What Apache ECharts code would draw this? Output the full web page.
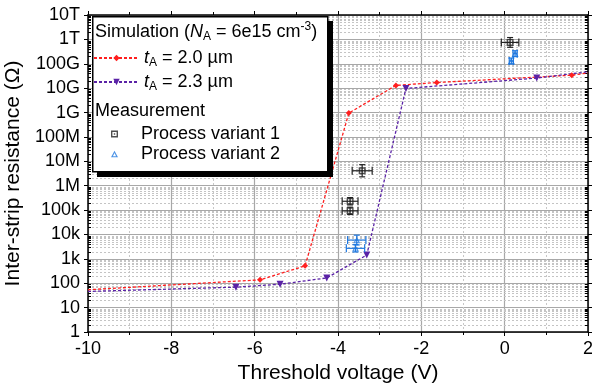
<!DOCTYPE html>
<html>
<head>
<meta charset="utf-8">
<script src="https://cdn.jsdelivr.net/npm/echarts@6/dist/echarts.min.js"></script>
<style>
  html, body { margin: 0; padding: 0; background: #fff; }
  #chart { width: 592px; height: 385px; }
</style>
</head>
<body>
<div id="chart"></div>
<script>
// simulated curves (V, Ohm); edge points carry the line to the frame without a marker
const vThin = [-10, -5.87, -4.79, -3.74, -2.61, -1.63, 1.61, 2];
const rThin = [54, 138, 515, 9.5e8, 1.3e10, 1.7e10, 3.4e10, 4.2e10];
const markThin = [0, 1, 1, 1, 1, 1, 1, 0];
const vThick = [-10, -6.45, -5.39, -4.27, -3.31, -2.37, 0.77, 2];
const rThick = [46, 69, 91, 165, 1440, 9.7e9, 2.6e10, 4.7e10];
const markThick = [0, 1, 1, 1, 1, 1, 1, 0];

// measurements with x error (V) and y error (decades)
const vVar1 = [0.13, -3.42, -3.71, -3.71];
const rVar1 = [7.5e11, 4.1e6, 2.3e5, 9.3e4];
const dvVar1 = [0.21, 0.24, 0.19, 0.19];
const dyVar1 = [0.2, 0.25, 0.15, 0.15];
const vVar2 = [0.25, 0.16, -3.55, -3.58];
const rVar2 = [2.6e11, 1.3e11, 5.9e3, 2.7e3];
const dvVar2 = [0.05, 0.05, 0.22, 0.22];
const dyVar2 = [0.12, 0.12, 0.2, 0.15];

const yTickLabels = ["1", "10", "100", "1k", "10k", "100k", "1M", "10M", "100M", "1G", "10G", "100G", "1T", "10T"];
const minorSteps = [2, 3, 4, 5, 6, 7, 8, 9];

const font = "Liberation Sans";
const red = "#ff1f1f";
const purple = "#5a22a6";
const blue = "#1f78e0";

const chart = echarts.init(document.getElementById("chart"), null, { renderer: "canvas" });

const lineData = (vs, rs, marks) => vs.map((v, i) => ({ value: [v, rs[i]], symbol: marks[i] ? undefined : "none" }));
const errData = (vs, rs, dv, dy) => vs.map((v, i) => [v, rs[i], dv[i], dy[i]]);

// minor log grid: 2..9 within every decade below the top label
const minorRows = [];
yTickLabels.slice(0, -1).forEach((_, d) => minorSteps.forEach((m) => minorRows.push([-10, m * Math.pow(10, d)])));

function errorBars(color) {
  return function (params, api) {
    const v = api.value(0), r = api.value(1), dv = api.value(2), dy = api.value(3);
    const l = api.coord([v - dv, r]), rr = api.coord([v + dv, r]);
    const t = api.coord([v, r * Math.pow(10, dy)]), b = api.coord([v, r / Math.pow(10, dy)]);
    const style = { stroke: color, lineWidth: 1.2 };
    const seg = (x1, y1, x2, y2) => ({ type: "line", shape: { x1, y1, x2, y2 }, style });
    return {
      type: "group",
      children: [
        seg(l[0], l[1], rr[0], rr[1]),
        seg(l[0], l[1] - 4, l[0], l[1] + 4),
        seg(rr[0], rr[1] - 4, rr[0], rr[1] + 4),
        seg(t[0], t[1], b[0], b[1]),
        seg(t[0] - 3, t[1], t[0] + 3, t[1]),
        seg(b[0] - 3, b[1], b[0] + 3, b[1]),
      ],
    };
  };
}

function minorGrid(params, api) {
  const cs = params.coordSys;
  const y = Math.round(api.coord([api.value(0), api.value(1)])[1]) + 0.5;
  const x0 = cs.x, x1 = cs.x + cs.width;
  return {
    type: "group",
    children: [
      { type: "line", shape: { x1: x0, y1: y, x2: x1, y2: y }, style: { stroke: "#c4c4c4", lineWidth: 1, lineDash: [2, 2] } },
      { type: "line", shape: { x1: x0, y1: y, x2: x0 + 3, y2: y }, style: { stroke: "#000", lineWidth: 1 } },
      { type: "line", shape: { x1: x1 - 3, y1: y, x2: x1, y2: y }, style: { stroke: "#000", lineWidth: 1 } },
    ],
  };
}

const richText = {
  it: { fontStyle: "italic", fontSize: 18, fontFamily: font, lineHeight: 22 },
  sub: { fontSize: 12, fontFamily: font, lineHeight: 13, verticalAlign: "bottom" },
  sup: { fontSize: 12, fontFamily: font, lineHeight: 13, verticalAlign: "top" },
  a: { fontSize: 18, fontFamily: font, lineHeight: 22 },
  pv: { fontSize: 18, fontFamily: font, lineHeight: 22, padding: [0, 0, 0, 18] },
};

const squareDot = "path://M0 0H10V10H0Z M2 2V8H8V2Z M4 4H6V6H4Z";
const hollowTriangle = "path://M5 0L10 9H0Z M5 3.2L2.7 7.6H7.3Z";

const frameX = {
  type: "value", min: -10, max: 2, interval: 2,
  axisLine: { onZero: false, lineStyle: { color: "#000", width: 1.5 } },
  axisTick: { inside: false, length: 4, lineStyle: { color: "#000" } },
  minorTick: { show: true, splitNumber: 2, length: 3, lineStyle: { color: "#000" } },
};
const frameY = {
  type: "log", logBase: 10, min: 1, max: 1e13, interval: 1,
  axisLine: { show: true, onZero: false, lineStyle: { color: "#000", width: 1.5 } },
  axisTick: { show: true, inside: false, length: 4, lineStyle: { color: "#000" } },
};

chart.setOption({
  animation: false,
  backgroundColor: "#fff",
  textStyle: { fontFamily: font },
  grid: { left: 88, right: 4, top: 15, bottom: 53, outerBoundsMode: "none", containLabel: false },
  xAxis: [
    {
      ...frameX,
      name: "Threshold voltage (V)", nameLocation: "middle", nameGap: 30,
      nameTextStyle: { fontSize: 21, color: "#000", fontFamily: font },
      axisLabel: { fontSize: 18, color: "#000", margin: 8 },
      splitLine: { show: true, lineStyle: { color: "#a8a8a8", width: 1.2 } },
      minorSplitLine: { show: true, lineStyle: { color: "#c8c8c8", type: [2, 2] } },
    },
    { ...frameX, position: "top", axisLabel: { show: false }, splitLine: { show: false } },
  ],
  yAxis: [
    {
      ...frameY,
      name: "Inter-strip resistance (\u03A9)", nameLocation: "middle", nameGap: 56,
      nameTextStyle: { fontSize: 21, color: "#000", fontFamily: font },
      axisLabel: {
        fontSize: 18, color: "#000", margin: 8,
        formatter: (v) => yTickLabels[Math.round(Math.log10(v))],
      },
      splitLine: { show: true, lineStyle: { color: "#a8a8a8", width: 1.2 } },
    },
    { ...frameY, position: "right", axisLabel: { show: false }, splitLine: { show: false } },
  ],
  legend: [
    {
      data: ["tA = 2.0 \u00B5m", "tA = 2.3 \u00B5m"], z: 20,
      orient: "vertical", left: 93, top: 49, itemWidth: 45, itemHeight: 8, itemGap: 4, padding: 0,
      formatter: (n) => "{it|t}{sub|A}{a|" + n.slice(2) + "}",
      textStyle: { rich: richText, color: "#000" },
    },
    {
      data: ["Process variant 1", "Process variant 2"], z: 20,
      orient: "vertical", left: 111, top: 125, itemWidth: 7, itemHeight: 7, itemGap: 2, padding: 0,
      formatter: (n) => "{pv|" + n + "}",
      textStyle: { rich: richText, color: "#000" },
    },
  ],
  graphic: [
    { type: "rect", left: 97, top: 21, z: 10, shape: { width: 236, height: 156 }, style: { fill: "#000" } },
    { type: "rect", left: 92, top: 16, z: 11, shape: { width: 235, height: 155 }, style: { fill: "#fff", stroke: "#000", lineWidth: 1.5 } },
    {
      type: "text", left: 95, top: 21, z: 12,
      style: { text: "{a|Simulation (}{it|N}{sub|A}{a| = 6e15 cm}{sup|-3}{a|)}", rich: richText, fill: "#000" },
    },
    { type: "text", left: 95, top: 102, z: 12, style: { text: "{a|Measurement}", rich: richText, fill: "#000" } },
  ],
  series: [
    { type: "custom", renderItem: minorGrid, data: minorRows, z: 1, silent: true },
    {
      name: "tA = 2.0 \u00B5m", type: "line", data: lineData(vThin, rThin, markThin),
      symbol: "diamond", symbolSize: 6, color: red, z: 3,
      lineStyle: { color: red, width: 1.3, type: [3, 2] },
    },
    {
      name: "tA = 2.3 \u00B5m", type: "line", data: lineData(vThick, rThick, markThick),
      symbol: "triangle", symbolRotate: 180, symbolSize: 7, color: purple, z: 3,
      lineStyle: { color: purple, width: 1.3, type: [3, 2] },
    },
    { type: "custom", renderItem: errorBars("#222"), data: errData(vVar1, rVar1, dvVar1, dyVar1), z: 4, silent: true },
    { type: "custom", renderItem: errorBars(blue), data: errData(vVar2, rVar2, dvVar2, dyVar2), z: 4, silent: true },
    {
      name: "Process variant 1", type: "scatter", data: vVar1.map((v, i) => [v, rVar1[i]]),
      symbol: squareDot, symbolSize: 7, symbolKeepAspect: true, itemStyle: { color: "#222" }, z: 5,
    },
    {
      name: "Process variant 2", type: "scatter", data: vVar2.map((v, i) => [v, rVar2[i]]),
      symbol: hollowTriangle, symbolSize: 7, symbolKeepAspect: true, itemStyle: { color: blue }, z: 5,
    },
  ],
});
</script>
</body>
</html>
